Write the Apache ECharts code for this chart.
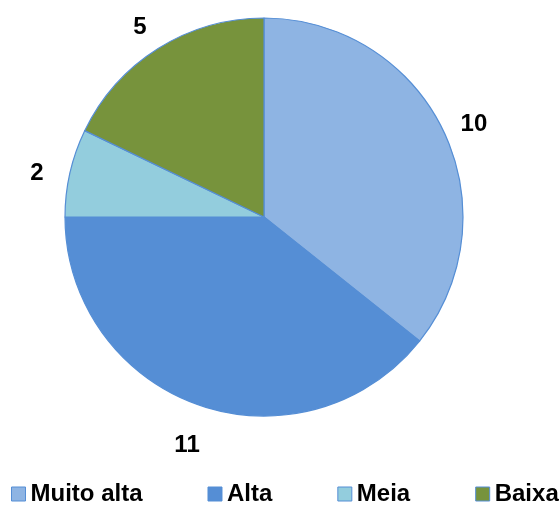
<!DOCTYPE html>
<html>
<head>
<meta charset="utf-8">
<script src="https://cdn.jsdelivr.net/npm/echarts@6/dist/echarts.min.js"></script>
<style>
  html, body { margin: 0; padding: 0; background: #fff; }
  #chart { width: 560px; height: 505px; }
</style>
</head>
<body>
<div id="chart"></div>
<script>
let $ = a => document.querySelector(a)

// dados
let categorias = ['Muito alta', 'Alta', 'Meia', 'Baixa']
let valores = [10, 11, 2, 5]
let cores = ['#8EB4E3', '#558ED5', '#93CDDD', '#77933C']

let fonte = 'Arial, "Liberation Sans", sans-serif'

// pizza
{
    echarts.init($('#chart')).setOption({
        animation: false,
        legend: {
            top: 482,
            left: 11,
            width: 549,
            padding: 0,
            itemWidth: 14,
            itemHeight: 14,
            itemGap: 65,
            icon: 'rect',
            textStyle: { fontFamily: fonte, fontWeight: 'bold', fontSize: 24, color: '#000' },
            itemStyle: { borderColor: '#558ED5', borderWidth: 1 },
            data: categorias
        },
        series: [
            {
                name: 'pizza',
                type: 'pie',
                center: [264, 217],
                radius: 199,
                startAngle: 90,
                clockwise: true,
                silent: true,
                label: { show: false },
                labelLine: { show: false },
                itemStyle: { borderColor: '#558ED5', borderWidth: 1.2 },
                data: categorias.map((nome, i) => ({ value: valores[i], name: nome, itemStyle: { color: cores[i] } }))
            },
            {
                // rótulos: pizza transparente maior, o rótulo fica no meio do raio
                name: 'rotulos',
                type: 'pie',
                center: [264, 225],
                radius: [0, 460],
                startAngle: 90,
                clockwise: true,
                silent: true,
                itemStyle: { color: 'transparent', borderWidth: 0 },
                label: {
                    show: true,
                    position: 'inside',
                    formatter: '{c}',
                    fontFamily: fonte,
                    fontWeight: 'bold',
                    fontSize: 24,
                    color: '#000'
                },
                labelLine: { show: false },
                data: categorias.map((nome, i) => ({ value: valores[i], name: nome }))
            }
        ]
    })
}
</script>
</body>
</html>
